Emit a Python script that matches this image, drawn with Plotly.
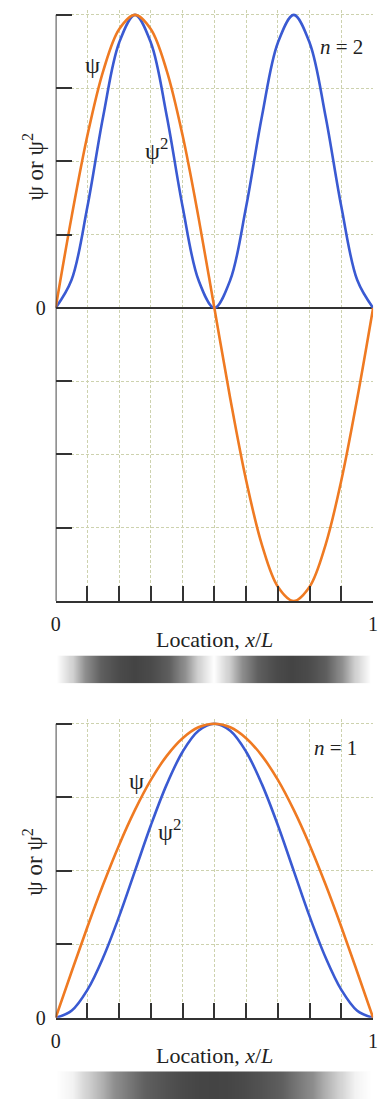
import plotly.graph_objects as go

# Particle in a box: wavefunction psi and probability density psi^2 for n = 2 and n = 1
x_pos = [0.00, 0.05, 0.10, 0.15, 0.20, 0.25, 0.30, 0.35, 0.40, 0.45, 0.50,
         0.55, 0.60, 0.65, 0.70, 0.75, 0.80, 0.85, 0.90, 0.95, 1.00]

psi_n2 = [0, 0.309, 0.588, 0.809, 0.951, 1.0, 0.951, 0.809, 0.588, 0.309, 0,
          -0.309, -0.588, -0.809, -0.951, -1.0, -0.951, -0.809, -0.588, -0.309, 0]
psi2_n2 = [0, 0.095, 0.345, 0.655, 0.905, 1.0, 0.905, 0.655, 0.345, 0.095, 0,
           0.095, 0.345, 0.655, 0.905, 1.0, 0.905, 0.655, 0.345, 0.095, 0]

psi_n1 = [0, 0.156, 0.309, 0.454, 0.588, 0.707, 0.809, 0.891, 0.951, 0.988, 1.0,
          0.988, 0.951, 0.891, 0.809, 0.707, 0.588, 0.454, 0.309, 0.156, 0]
psi2_n1 = [0, 0.024, 0.095, 0.206, 0.345, 0.5, 0.655, 0.794, 0.905, 0.976, 1.0,
           0.976, 0.905, 0.794, 0.655, 0.5, 0.345, 0.206, 0.095, 0.024, 0]

x_ticks = [0.0, 0.1, 0.2, 0.3, 0.4, 0.5, 0.6, 0.7, 0.8, 0.9, 1.0]
x_ticklabels = ["0", "", "", "", "", "", "", "", "", "", "1"]
y_ticks_n2 = [-1.0, -0.75, -0.5, -0.25, 0.0, 0.25, 0.5, 0.75, 1.0]
y_ticklabels_n2 = ["", "", "", "", "0", "", "", "", ""]
y_ticks_n1 = [0.0, 0.25, 0.5, 0.75, 1.0]
y_ticklabels_n1 = ["0", "", "", "", ""]

W, H = 382, 1114
SERIF = "Liberation Serif, Times New Roman, serif"
ORANGE = "#EF7A22"
BLUE = "#3A5AD2"
AXIS = "#333333"
GRID = "#CDD2AE"
TEXT = "#222222"


def px(xp):
    return xp / W


def py(yp):
    return 1 - yp / H


x_dom = [px(52), px(378)]

fig = go.Figure()

# n = 2 panel
fig.add_trace(go.Scatter(x=x_pos, y=psi2_n2, mode="lines", line=dict(color=BLUE, width=2.6, shape="spline"),
                         xaxis="x", yaxis="y", showlegend=False))
fig.add_trace(go.Scatter(x=x_pos, y=psi_n2, mode="lines", line=dict(color=ORANGE, width=2.6, shape="spline"),
                         xaxis="x", yaxis="y", showlegend=False))
# n = 1 panel
fig.add_trace(go.Scatter(x=x_pos, y=psi2_n1, mode="lines", line=dict(color=BLUE, width=2.6, shape="spline"),
                         xaxis="x2", yaxis="y2", showlegend=False))
fig.add_trace(go.Scatter(x=x_pos, y=psi_n1, mode="lines", line=dict(color=ORANGE, width=2.6, shape="spline"),
                         xaxis="x2", yaxis="y2", showlegend=False))

# probability density shading bars
density_scale = [[0.0, "#ffffff"], [0.08, "#d6d6d6"], [0.3, "#8e8e8e"], [0.6, "#606060"], [1.0, "#444444"]]
fig.add_trace(go.Heatmap(x=x_pos, y=[0, 1], z=[psi2_n2, psi2_n2], colorscale=density_scale, zmin=0, zmax=1,
                         zsmooth="best", showscale=False, xaxis="x3", yaxis="y3", hoverinfo="skip"))
fig.add_trace(go.Heatmap(x=x_pos, y=[0, 1], z=[psi2_n1, psi2_n1], colorscale=density_scale, zmin=0, zmax=1,
                         zsmooth="best", showscale=False, xaxis="x4", yaxis="y4", hoverinfo="skip"))

tickfont = dict(family=SERIF, size=20, color=TEXT)
xaxis_common = dict(range=[0, 1], tickvals=x_ticks, ticktext=x_ticklabels, ticks="inside", ticklen=15,
                    tickwidth=1.5, tickcolor=AXIS, showline=True, linecolor=AXIS, linewidth=1.8,
                    showgrid=True, gridcolor=GRID, gridwidth=1, griddash="3px,2px", zeroline=False,
                    tickfont=tickfont, ticklabelstandoff=4, ticklabeloverflow="allow", fixedrange=True)
yaxis_common = dict(ticks="inside", ticklen=16, tickwidth=1.5, tickcolor=AXIS, showline=False,
                    showgrid=True, gridcolor=GRID, gridwidth=1, griddash="3px,2px",
                    tickfont=tickfont, ticklabelstandoff=9, fixedrange=True)

# top plot: y=1 at 15px, y=-1 at 607px, with a little headroom above the peaks
top_dom = [py(607), py(15 - 0.015 * 296)]
bot_dom = [py(1028), py(731 - 0.015 * 297)]

fig.update_layout(
    width=W, height=H, margin=dict(l=0, r=0, t=0, b=0),
    paper_bgcolor="white", plot_bgcolor="white",
    xaxis=dict(domain=x_dom, anchor="y", **xaxis_common),
    yaxis=dict(domain=top_dom, anchor="x", range=[-1, 1.015], tickvals=y_ticks_n2, ticktext=y_ticklabels_n2,
               zeroline=True, zerolinecolor=AXIS, zerolinewidth=1.8, **yaxis_common),
    xaxis2=dict(domain=x_dom, anchor="y2", **xaxis_common),
    yaxis2=dict(domain=bot_dom, anchor="x2", range=[0, 1.015], tickvals=y_ticks_n1, ticktext=y_ticklabels_n1,
                zeroline=False, **yaxis_common),
    xaxis3=dict(domain=[px(53), px(375)], anchor="y3", range=[0, 1], visible=False, fixedrange=True),
    yaxis3=dict(domain=[py(690), py(662)], anchor="x3", range=[0, 1], visible=False, fixedrange=True),
    xaxis4=dict(domain=[px(53), px(375)], anchor="y4", range=[0, 1], visible=False, fixedrange=True),
    yaxis4=dict(domain=[py(1110), py(1082)], anchor="x4", range=[0, 1], visible=False, fixedrange=True),
)

# left axis lines, from the bottom of each panel to its top tick
fig.add_shape(type="line", xref="x", yref="y", x0=0, x1=0, y0=-1, y1=1, line=dict(color=AXIS, width=1.8))
fig.add_shape(type="line", xref="x2", yref="y2", x0=0, x1=0, y0=0, y1=1, line=dict(color=AXIS, width=1.8))


def note(text, xp, yp, size=22, angle=0):
    fig.add_annotation(text=text, x=px(xp), y=py(yp), xref="paper", yref="paper", showarrow=False,
                       xanchor="center", yanchor="middle", textangle=angle,
                       font=dict(family=SERIF, size=size, color=TEXT))


# curve labels
note("ψ", 90, 66, size=24)
note("ψ<sup>2</sup>", 156, 150, size=24)
note("<i>n</i> = 2", 346, 47, size=21)
note("ψ", 135, 789, size=24)
note("ψ<sup>2</sup>", 169, 838, size=24)
note("<i>n</i> = 1", 339, 755, size=21)

# axis titles
note("ψ or ψ<sup>2</sup>", 29, 168, size=23, angle=-90)
note("ψ or ψ<sup>2</sup>", 29, 870, size=23, angle=-90)
note("Location, <i>x</i>/<i>L</i>", 215, 646, size=22)
note("Location, <i>x</i>/<i>L</i>", 215, 1066, size=22)

fig.write_html("out.html")
